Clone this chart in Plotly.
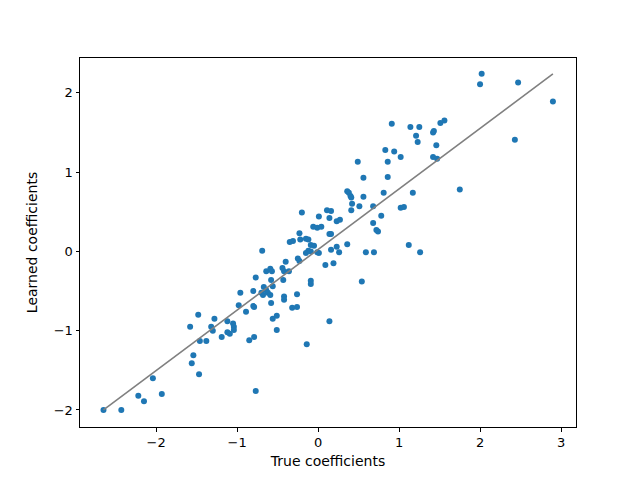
import plotly.graph_objects as go

true_coef = [2.02, 2.00, 2.47, 2.90, 2.43, 1.75, 0.91, 1.14, 1.25, 1.21, 1.23, 1.43, 1.42, 1.51, 1.56,
             1.46, 1.42, 1.47, 1.02, 0.83, 0.94, 0.49, 0.86, 0.56, 0.86, 1.17, 1.02, 1.06, 1.12, 1.26,
             0.36, 0.38, 0.40, 0.41, 0.56, 0.81, 0.42, 0.51, 0.68, 0.41, -0.20, 0.11, 0.16, 0.01, 0.14,
             0.23, 0.27, 0.78, 0.68, 0.72, 0.74, -0.06, -0.01, 0.04, -0.23, 0.14, 0.16, -0.35, -0.31,
             -0.22, -0.15, -0.12, 0.36, 0.23, 0.26, -0.69, -0.09, -0.05, -0.12, -0.15, -0.09, 0.01,
             0.16, 0.59, 0.69, -0.25, -0.23, -0.40, 0.19, 0.09, -0.64, -0.59, -0.57, -0.44, -0.42,
             -0.36, -0.77, -0.58, -0.43, -0.09, -0.09, 0.54, -0.96, -0.80, -0.67, -0.64, -0.70, -0.68,
             -0.62, -0.59, -0.56, -0.42, -0.26, -0.80, -0.79, -0.58, -0.32, -0.26, -0.42, -0.98, -0.89,
             0.14, -0.56, -0.51, -0.51, -0.85, -0.79, -0.14, -0.77, -1.48, -1.58, -1.28, -1.32, -1.30,
             -1.12, -1.05, -1.04, -1.04, -1.12, -1.09, -1.19, -1.46, -1.38, -1.54, -1.56, -1.47, -2.04,
             -2.22, -2.15, -1.93, -2.65, -2.43, -0.01]
learned_coef = [2.24, 2.11, 2.13, 1.89, 1.41, 0.78, 1.61, 1.57, 1.57, 1.46, 1.38, 1.52, 1.50, 1.62, 1.65,
                1.34, 1.19, 1.17, 1.19, 1.28, 1.26, 1.13, 1.13, 0.93, 0.94, 0.74, 0.55, 0.56, 0.08, -0.01,
                0.76, 0.74, 0.70, 0.68, 0.69, 0.74, 0.60, 0.57, 0.57, 0.52, 0.49, 0.52, 0.51, 0.44, 0.42,
                0.38, 0.40, 0.45, 0.36, 0.27, 0.25, 0.31, 0.30, 0.31, 0.23, 0.22, 0.22, 0.12, 0.13,
                0.15, 0.16, 0.15, 0.09, 0.06, -0.01, 0.01, 0.08, 0.07, 0.01, -0.02, 0.00, -0.02,
                0.02, -0.01, -0.01, -0.09, -0.12, -0.13, -0.15, -0.17, -0.25, -0.22, -0.25, -0.21, -0.25,
                -0.25, -0.33, -0.36, -0.36, -0.37, -0.41, -0.38, -0.52, -0.50, -0.45, -0.49, -0.52, -0.55,
                -0.52, -0.55, -0.44, -0.57, -0.54, -0.69, -0.70, -0.65, -0.71, -0.70, -0.61, -0.68, -0.76,
                -0.88, -0.85, -0.81, -0.99, -1.12, -1.08, -1.17, -1.76, -0.80, -0.95, -0.85, -0.95, -1.00,
                -0.88, -0.91, -0.95, -0.99, -1.02, -1.04, -1.08, -1.13, -1.13, -1.31, -1.41, -1.55, -1.60,
                -1.82, -1.89, -1.80, -2.00, -2.00, -0.01]

x_ticks = [-2, -1, 0, 1, 2, 3]
y_ticks = [-2, -1, 0, 1, 2]

fig = go.Figure()
fig.add_trace(go.Scatter(
    x=true_coef, y=learned_coef, mode="markers",
    marker=dict(color="#1f77b4", size=6, line=dict(width=0)),
    showlegend=False, cliponaxis=False,
))
fig.add_trace(go.Scatter(
    x=[min(true_coef), max(true_coef)], y=[min(learned_coef), max(learned_coef)],
    mode="lines", line=dict(color="gray", width=1.6), showlegend=False,
))

axis_common = dict(
    showgrid=False, zeroline=False, showline=True, linecolor="black", linewidth=1,
    mirror=True, ticks="outside", ticklen=3.5, tickwidth=1, tickcolor="black",
    tickfont=dict(family="DejaVu Sans", size=13, color="black"),
)
title_font = dict(family="DejaVu Sans", size=14, color="black")
fig.update_layout(
    width=640, height=480,
    margin=dict(l=80, r=64, t=58, b=53),
    paper_bgcolor="white", plot_bgcolor="white",
    font=dict(family="DejaVu Sans", size=13, color="black"),
    xaxis=dict(range=[-2.94, 3.185], tickvals=x_ticks,
               title=dict(text="True coefficients", standoff=7, font=title_font), **axis_common),
    yaxis=dict(range=[-2.215, 2.44], tickvals=y_ticks,
               title=dict(text="Learned coefficients", standoff=12, font=title_font), **axis_common),
)
fig.write_html("out.html")
